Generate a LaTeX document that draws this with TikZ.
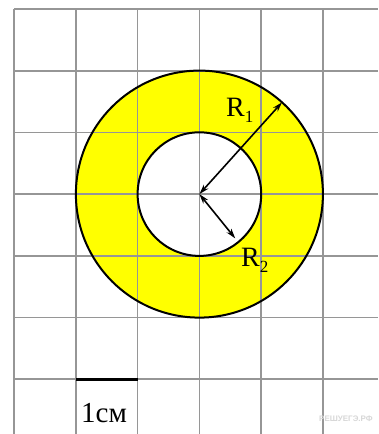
\documentclass[tikz,border=0pt]{standalone}
\usepackage{fontspec}
\setmainfont{Liberation Serif}
\newfontfamily\wmfont{Liberation Sans}
\usetikzlibrary{arrows.meta,calc}
\definecolor{gridgray}{RGB}{150,150,150}
\definecolor{ringyellow}{RGB}{255,255,0}
\definecolor{wmgray}{RGB}{215,215,215}
\begin{document}
\begin{tikzpicture}[x=1pt,y=-1pt,
  gridline/.style={draw=gridgray, line width=1.7pt},
  ring/.style={draw=black, line width=2pt},
  radarrow/.style={draw=black, line width=1.6pt, {Stealth[length=10pt,width=6pt]}-{Stealth[length=10pt,width=6pt]}},
  lbl/.style={font=\fontsize{28}{28}\selectfont, inner sep=0pt, anchor=base west}]
\useasboundingbox (0,0) rectangle (378,434);
\fill[white] (0,0) rectangle (378,434);
\begin{scope}
\clip (0,0) rectangle (378,434);
\coordinate (O) at (199.4,194.1);
\fill[ringyellow, even odd rule] (O) circle (123.5pt) (O) circle (61.8pt);
\foreach \i in {0,...,5} \draw[gridline] ({14+61.8*\i},9) -- ({14+61.8*\i},434);
\foreach \j in {0,...,6} \draw[gridline] (14,{9+61.7*\j}) -- (378,{9+61.7*\j});
\draw[ring] (O) circle (123.5pt);
\draw[ring] (O) circle (61.8pt);
\coordinate (A) at ($(O)+(48:123.5pt)$);
\coordinate (B) at ($(O)+(-51:57pt)$);
\draw[radarrow] (O) -- (A);
\draw[radarrow] (O) -- (B);
\coordinate (s1) at (75.8,379);
\coordinate (s2) at (137.6,379);
\draw[black, line width=3pt] (s1) -- (s2);
\end{scope}
\node[lbl] (r1) at (226,116) {R\raisebox{-6pt}{\fontsize{17}{17}\selectfont 1}};
\node[lbl] (r2) at (241,266) {R\raisebox{-6pt}{\fontsize{17}{17}\selectfont 2}};
\node[lbl, font=\fontsize{29}{29}\selectfont] (cm) at (81,422) {1см};
\node[anchor=base west, inner sep=0pt, text=wmgray, font=\wmfont\bfseries\fontsize{8}{8}\selectfont] (wm) at (319,421) {РЕШУЕГЭ.РФ};
\end{tikzpicture}
\end{document}
